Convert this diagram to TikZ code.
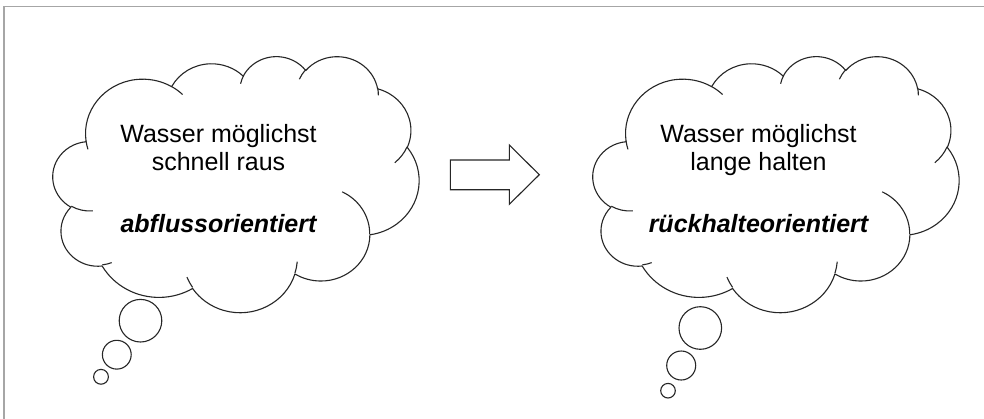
\documentclass[tikz,border=0pt]{standalone}
\usepackage{fontspec}
\setmainfont{Liberation Sans}
\definecolor{framegray}{HTML}{A6A6A6}
\definecolor{linegray}{HTML}{262626}
\tikzset{
  ooarc/.style n args={4}{insert path={
    arc[x radius={#1}, y radius={#2},
        start angle={atan2((#1)*sin(#3),(#2)*cos(#3))},
        delta angle={mod(atan2((#1)*sin((#3)+(#4)),(#2)*cos((#3)+(#4)))-atan2((#1)*sin(#3),(#2)*cos(#3))+720,360)}]}},
  cloudline/.style={draw=linegray, line width=1.1pt, line join=round},
  bubble/.style={circle, draw=linegray, line width=1.1pt, fill=white, inner sep=0pt},
  txt/.style={font=\fontsize{25}{30}\selectfont, anchor=base, inner sep=0pt},
  txtbi/.style={font=\fontsize{25}{30}\selectfont\bfseries\itshape, anchor=base, inner sep=0pt},
  cloud/.pic={
    \begin{scope}[xscale=8.4722, yscale=5.9259]
      \path[cloudline, fill=white] (3.9,14.37)
        [ooarc={6.753}{9.190}{-190.48748}{123.78053}]
        [ooarc={5.333}{7.267}{-144.10238}{89.94523}]
        [ooarc={4.365}{5.945}{-145.80792}{99.72302}]
        [ooarc={4.857}{6.595}{-130.98607}{117.24173}]
        [ooarc={5.333}{7.273}{-78.70888}{109.02692}]
        [ooarc={6.775}{9.220}{-46.26725}{130.269}]
        [ooarc={5.785}{7.867}{0.62502}{114.03333}]
        [ooarc={6.752}{9.215}{22.4516}{115.17255}]
        [ooarc={7.720}{10.543}{66.24263}{75.71102}]
        [ooarc={4.360}{5.918}{-274.94208}{146.73557}]
        [ooarc={4.345}{5.945}{-246.8285}{152.51885}]
        -- cycle;
      \path[cloudline]
        (4.693,26.177) [ooarc={4.345}{5.945}{86.742}{26.4295}]
        (6.928,34.899) [ooarc={4.360}{5.918}{73.61047}{11.44747}]
        (16.478,39.090) [ooarc={6.752}{9.215}{137.62415}{14.0811}]
        (28.827,34.751) [ooarc={6.752}{9.215}{6.45327}{15.99835}]
        (34.129,22.954) [ooarc={5.785}{7.867}{-70.29235}{70.91737}]
        (41.798,15.354) [ooarc={5.333}{7.273}{30.31803}{27.7515}]
        (38.324,5.426) [ooarc={4.857}{6.595}{-13.74433}{14.8589}]
        (29.078,3.952) [ooarc={4.857}{6.595}{-149.18145}{18.19537}]
        (22.141,4.720) [ooarc={4.365}{5.945}{-163.49427}{17.68635}]
        (14.000,5.192) [ooarc={6.753}{9.190}{-66.70695}{12.31935}]
        (4.127,15.789) [ooarc={6.753}{9.190}{157.65435}{11.85817}];
    \end{scope}
  }
}
\begin{document}
\begin{tikzpicture}[x=1pt, y=-1pt]
  \useasboundingbox (0,0) rectangle (984,418);
  \fill[white] (0,0) rectangle (984,418);
  % frame
  \draw[framegray, line width=1.8pt] (4.3,425) -- (4.3,6.5) -- (990,6.5);

  % left cloud
  \pic (cloudL) at (53,55.8) {cloud};
  \node[bubble, minimum size=42.6pt] (bL1) at (140.5,320.7) {};
  \node[bubble, minimum size=28.8pt] (bL2) at (116.8,354.7) {};
  \node[bubble, minimum size=14.8pt] (bL3) at (101,376.8) {};
  \node[txt] (tL1) at (218.5,142.3) {Wasser möglichst};
  \node[txt] (tL2) at (218.5,170.8) {schnell raus};
  \node[txtbi] (tL3) at (218.5,232.2) {abflussorientiert};

  % right cloud
  \pic (cloudR) at (593,55.8) {cloud};
  \node[bubble, minimum size=42.6pt] (bR1) at (700.3,328) {};
  \node[bubble, minimum size=29pt] (bR2) at (681.2,365.5) {};
  \node[bubble, minimum size=14.6pt] (bR3) at (668,390.7) {};
  \node[txt] (tR1) at (758.5,142.3) {Wasser möglichst};
  \node[txt] (tR2) at (758.5,170.8) {lange halten};
  \node[txtbi] (tR3) at (758.5,232.2) {rückhalteorientiert};

  % block arrow
  \coordinate (a1) at (450.3,160);
  \coordinate (a2) at (509.3,160);
  \coordinate (a3) at (509.3,145);
  \coordinate (a4) at (539.3,174.7);
  \coordinate (a5) at (509.3,204.3);
  \coordinate (a6) at (509.3,189.7);
  \coordinate (a7) at (450.3,189.7);
  \draw[draw=linegray, line width=1.1pt, line join=miter, fill=white]
    (a1) -- (a2) -- (a3) -- (a4) -- (a5) -- (a6) -- (a7) -- cycle;
\end{tikzpicture}
\end{document}
